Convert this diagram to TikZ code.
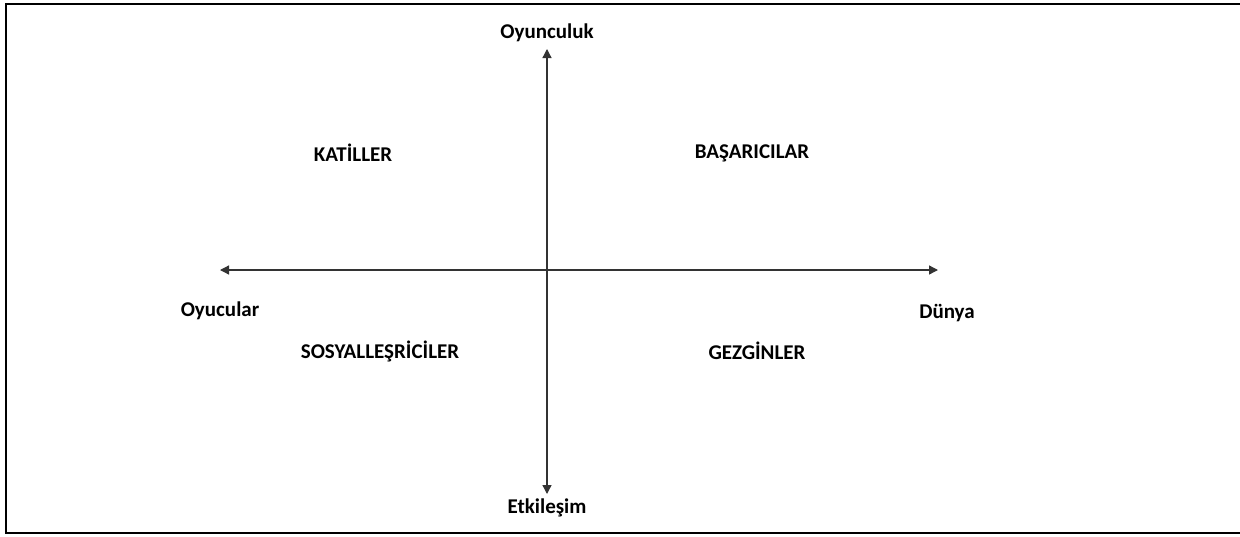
\documentclass[tikz,border=0pt]{standalone}
\usepackage{fontspec}
\setmainfont{Carlito}
\usetikzlibrary{arrows.meta}
\begin{document}
\begin{tikzpicture}[x=1pt,y=-1pt,font=\bfseries\fontsize{21}{24}\selectfont]
\useasboundingbox (0,0) rectangle (1240,536);
\draw[line width=2.8pt] (1245,4) -- (6,4) -- (6,533) -- (1245,533);
\coordinate (west) at (220,270);
\coordinate (east) at (938,270);
\coordinate (north) at (547,49);
\coordinate (south) at (547,494);
\draw[{Triangle[length=9pt,width=9pt]}-{Triangle[length=9pt,width=9pt]},line width=1.3pt,black!80] (west) -- (east);
\draw[{Triangle[length=9pt,width=9pt]}-{Triangle[length=9pt,width=9pt]},line width=1.3pt,black!80] (north) -- (south);
\node (oyunculuk) at (547,33) {Oyunculuk};
\node (etkilesim) at (547,508) {Etkileşim};
\node (oyucular) at (220,311) {Oyucular};
\node (dunya) at (947,313) {Dünya};
\node (katiller) at (353,153) {KATİLLER};
\node (basaricilar) at (752,153) {BAŞARICILAR};
\node (sosyal) at (380,351) {SOSYALLEŞRİCİLER};
\node (gezginler) at (757,351) {GEZGİNLER};
\end{tikzpicture}
\end{document}
